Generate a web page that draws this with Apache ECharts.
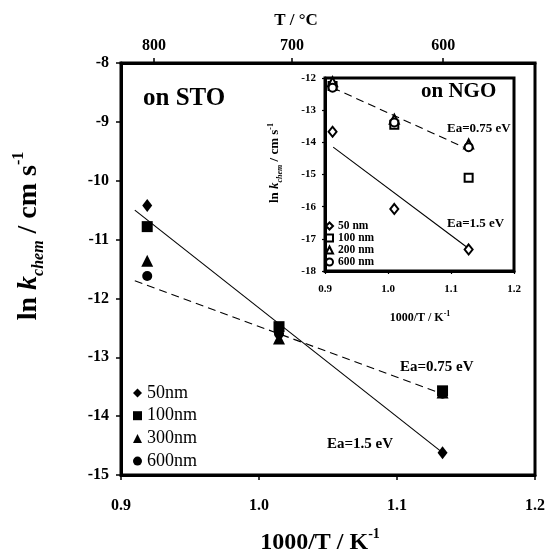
<!DOCTYPE html>
<html>
<head>
<meta charset="utf-8">
<script src="https://cdn.jsdelivr.net/npm/echarts@6/dist/echarts.min.js"></script>
<style>
  html, body { margin: 0; padding: 0; background: #fff; }
  #chart { width: 545px; height: 551px; }
</style>
</head>
<body>
<div id="chart"></div>
<script>
const FONT = "'Liberation Serif', 'Times New Roman', serif";

// main plot: films on STO
const stoX = [0.919, 1.0145, 1.133];
const sto50 = [-10.42, -12.6, -14.62];
const sto100 = [-10.78, -12.48, -13.57];
const sto300 = [-11.36, -12.68, -13.6];
const sto600 = [-11.62, -12.6, -13.62];

const stoFitSteepX = [0.91, 1.133];
const stoFitSteepY = [-10.5, -14.62];
const stoFitFlatX = [0.91, 1.128];
const stoFitFlatY = [-11.7, -13.58];

// inset: films on NGO
const ngoX = [0.912, 1.01, 1.128];
const ngo50 = [-13.67, -16.07, -17.33];
const ngo100 = [-12.25, -13.45, -15.1];
const ngo200 = [-12.12, -13.28, -14.05];
const ngo600 = [-12.3, -13.38, -14.15];

const ngoFitSteepX = [0.913, 1.128];
const ngoFitSteepY = [-14.15, -17.3];
const ngoFitFlatX = [0.912, 1.12];
const ngoFitFlatY = [-12.3, -14.15];

// secondary temperature scale (top axis)
const tempLabels = [800, 700, 600];
const tempTickX = [0.924, 1.024, 1.1335];

function pairs(xs, ys) {
  return xs.map((x, i) => [x, ys[i]]);
}

function scatter(name, xs, ys, symbol, size, grid, empty) {
  return {
    type: "scatter",
    name,
    xAxisIndex: grid === 0 ? 0 : 2,
    yAxisIndex: grid,
    symbol,
    symbolSize: size,
    z: 5,
    itemStyle: empty
      ? { color: "#fff", borderColor: "#000", borderWidth: 2, opacity: 1 }
      : { color: "#000", opacity: 1 },
    data: pairs(xs, ys)
  };
}

function fitLine(xs, ys, grid, dashed) {
  return {
    type: "line",
    xAxisIndex: grid === 0 ? 0 : 2,
    yAxisIndex: grid,
    showSymbol: false,
    silent: true,
    z: 3,
    lineStyle: { color: "#000", width: 1.1, opacity: 1, type: dashed ? [8, 5] : "solid" },
    data: pairs(xs, ys)
  };
}

const bold = (size) => ({ fontFamily: FONT, fontWeight: "bold", fontSize: size, color: "#000" });

function axisTitleRich(big, small) {
  return {
    a: { fontFamily: FONT, fontWeight: "bold", fontSize: big, lineHeight: big * 1.3, fill: "#000" },
    b: { fontFamily: FONT, fontWeight: "bold", fontStyle: "italic", fontSize: big, lineHeight: big * 1.3, fill: "#000" },
    c: { fontFamily: FONT, fontWeight: "bold", fontStyle: "italic", fontSize: small, verticalAlign: "bottom", lineHeight: small, fill: "#000" },
    d: { fontFamily: FONT, fontWeight: "bold", fontSize: small, verticalAlign: "top", lineHeight: small, fill: "#000" }
  };
}

function label(text, x, y, size, align) {
  return {
    type: "text",
    x,
    y,
    z: 20,
    style: {
      text,
      fill: "#000",
      font: `bold ${size}px ${FONT}`,
      align: align || "left",
      verticalAlign: "middle"
    }
  };
}

const chart = echarts.init(document.getElementById("chart"), null, { renderer: "canvas" });

chart.setOption({
  backgroundColor: "#fff",
  animation: false,
  grid: [
    {
      left: 121, top: 63, width: 414, height: 412,
      show: true, borderColor: "#000", borderWidth: 3, backgroundColor: "#fff",
      outerBoundsMode: "none"
    },
    {
      left: 325, top: 78, width: 189, height: 193,
      show: true, borderColor: "#000", borderWidth: 3, backgroundColor: "#fff",
      outerBoundsMode: "none"
    }
  ],
  xAxis: [
    {
      type: "value", gridIndex: 0, position: "bottom",
      min: 0.9, max: 1.2, interval: 0.1,
      splitLine: { show: false },
      axisLine: { show: true, onZero: false, lineStyle: { color: "#000", width: 3 } },
      axisTick: { show: true, inside: false, length: 5, lineStyle: { color: "#000", width: 1.5 } },
      axisLabel: { ...bold(16), margin: 23, showMinLabel: true, showMaxLabel: true, formatter: (v) => v.toFixed(1) }
    },
    {
      type: "value", gridIndex: 0, position: "top",
      min: 0.9, max: 1.2,
      splitLine: { show: false },
      axisLine: { show: true, onZero: false, lineStyle: { color: "#000", width: 3 } },
      axisTick: { show: true, length: 5, customValues: tempTickX, lineStyle: { color: "#000", width: 1.5 } },
      axisLabel: {
        ...bold(16), margin: 9, customValues: tempTickX,
        formatter: (v) => {
          const i = tempTickX.findIndex((t) => Math.abs(t - v) < 1e-6);
          return i >= 0 ? String(tempLabels[i]) : "";
        }
      }
    },
    {
      type: "value", gridIndex: 1, position: "bottom",
      min: 0.9, max: 1.2, interval: 0.1,
      splitLine: { show: false },
      axisLine: { show: true, onZero: false, lineStyle: { color: "#000", width: 3 } },
      axisTick: { show: true, length: 3, lineStyle: { color: "#000", width: 1.2 } },
      axisLabel: { ...bold(11), margin: 13, showMinLabel: true, showMaxLabel: true, formatter: (v) => v.toFixed(1) }
    }
  ],
  yAxis: [
    {
      type: "value", gridIndex: 0,
      min: -15, max: -8, interval: 1,
      splitLine: { show: false },
      axisLine: { show: true, onZero: false, lineStyle: { color: "#000", width: 3 } },
      axisTick: { show: true, length: 5, lineStyle: { color: "#000", width: 1.5 } },
      axisLabel: { ...bold(16), margin: 12, showMinLabel: true, showMaxLabel: true }
    },
    {
      type: "value", gridIndex: 1,
      min: -18, max: -12, interval: 1,
      splitLine: { show: false },
      axisLine: { show: true, onZero: false, lineStyle: { color: "#000", width: 3 } },
      axisTick: { show: true, length: 3, lineStyle: { color: "#000", width: 1.2 } },
      axisLabel: { ...bold(11), margin: 9, showMinLabel: true, showMaxLabel: true }
    }
  ],
  legend: [
    {
      orient: "vertical",
      left: 133, top: 384,
      padding: 0,
      itemWidth: 9, itemHeight: 9, itemGap: 4.7,
      textStyle: { fontFamily: FONT, fontSize: 18, lineHeight: 17, color: "#000" },
      data: ["50nm", "100nm", "300nm", "600nm"]
    },
    {
      orient: "vertical",
      left: 325, top: 220,
      padding: 0,
      itemWidth: 7, itemHeight: 7, itemGap: 0,
      textStyle: { fontFamily: FONT, fontWeight: "bold", fontSize: 11.5, lineHeight: 12, color: "#000" },
      data: ["50 nm", "100 nm", "200 nm", "600 nm"]
    }
  ],
  series: [
    fitLine(stoFitSteepX, stoFitSteepY, 0, false),
    fitLine(stoFitFlatX, stoFitFlatY, 0, true),
    scatter("50nm", stoX, sto50, "diamond", [10, 13], 0, false),
    scatter("100nm", stoX, sto100, "rect", 11, 0, false),
    scatter("300nm", stoX, sto300, "triangle", 12, 0, false),
    scatter("600nm", stoX, sto600, "circle", 10, 0, false),

    fitLine(ngoFitSteepX, ngoFitSteepY, 1, false),
    fitLine(ngoFitFlatX, ngoFitFlatY, 1, true),
    scatter("50 nm", ngoX, ngo50, "diamond", [8, 10], 1, true),
    scatter("100 nm", ngoX, ngo100, "rect", 8, 1, true),
    scatter("200 nm", ngoX, ngo200, "triangle", 9, 1, true),
    scatter("600 nm", ngoX, ngo600, "circle", 8, 1, true)
  ],
  graphic: [
    {
      type: "text", x: 29, y: 236, rotation: Math.PI / 2, z: 20,
      style: {
        text: "{a|ln }{b|k}{c|chem}{a| / cm s}{d|-1}",
        rich: axisTitleRich(28, 16),
        align: "center", verticalAlign: "middle"
      }
    },
    {
      type: "text", x: 320, y: 543, z: 20,
      style: {
        text: "{a|1000/T / K}{d|-1}",
        rich: axisTitleRich(24, 14),
        align: "center", verticalAlign: "middle"
      }
    },
    label("T / °C", 296, 21, 17, "center"),
    label("on STO", 143, 99, 25),
    label("Ea=0.75 eV", 400, 367, 15),
    label("Ea=1.5 eV", 327, 444, 15),

    {
      type: "text", x: 275, y: 163, rotation: Math.PI / 2, z: 20,
      style: {
        text: "{a|ln }{b|k}{c|chem}{a| / cm s}{d|-1}",
        rich: axisTitleRich(13, 8),
        align: "center", verticalAlign: "middle"
      }
    },
    {
      type: "text", x: 420, y: 318, z: 20,
      style: {
        text: "{a|1000/T / K}{d|-1}",
        rich: axisTitleRich(12, 8),
        align: "center", verticalAlign: "middle"
      }
    },
    label("on NGO", 421, 92, 21),
    label("Ea=0.75 eV", 447, 129, 13),
    label("Ea=1.5 eV", 447, 224, 13)
  ]
});
</script>
</body>
</html>
